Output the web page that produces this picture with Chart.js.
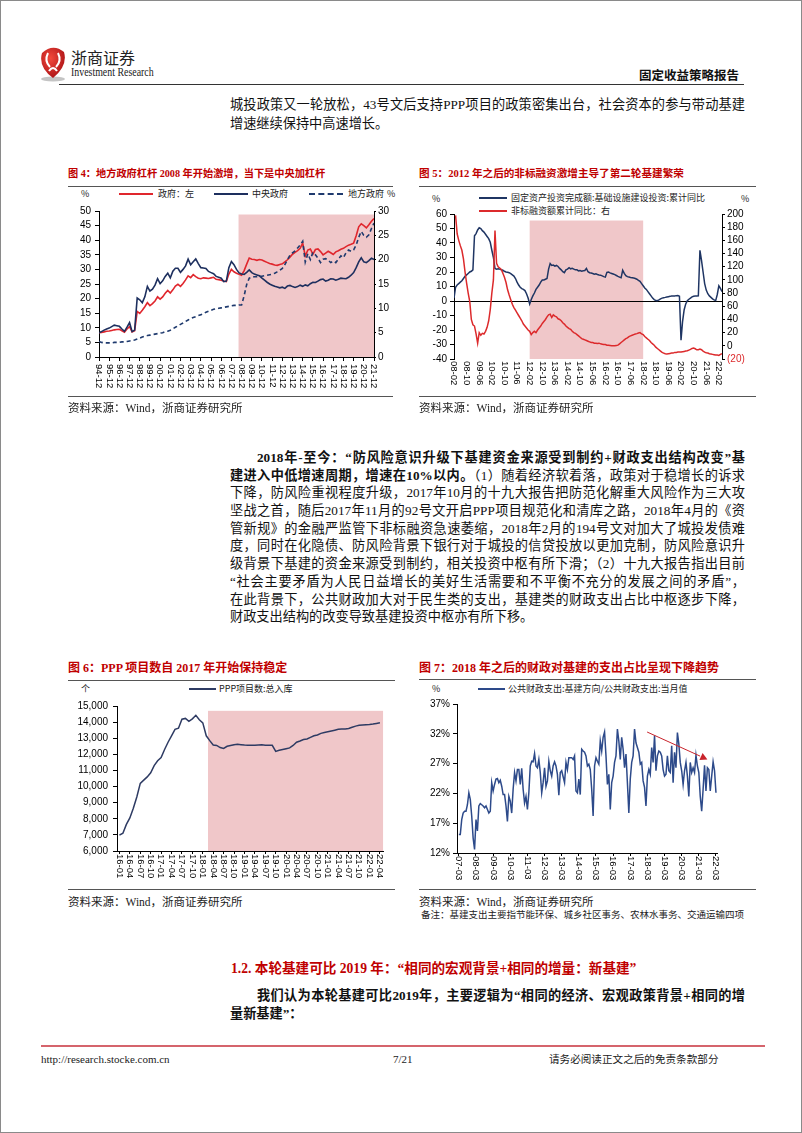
<!DOCTYPE html>
<html>
<head>
<meta charset="utf-8">
<script src="https://cdn.jsdelivr.net/npm/chart.js@4.4.1/dist/chart.umd.min.js"></script>
<style>
html, body { margin: 0; padding: 0; background: #fff; }
#page { position: relative; width: 800px; height: 1131px; border: 1px solid #8a8a8a; overflow: hidden;
        font-family: "Liberation Serif", "Noto Sans CJK SC", serif; color: #111; }
.abs { position: absolute; white-space: nowrap; }
.ln { position: absolute; left: 229px; width: 515px; height: 18px; line-height: 18px; font-size: 13.2px;
      text-align: justify; text-align-last: justify; }
.ln.end { text-align-last: left; }
.b { font-weight: 700; }
.ttl { position: absolute; white-space: nowrap; color: #c00000; font-weight: 700; line-height: 14px;
       font-family: "Liberation Serif", "Noto Sans CJK SC", serif; }
.rule { position: absolute; height: 0; border-top: 1px solid #555; }
.src { position: absolute; white-space: nowrap; font-size: 11.5px; line-height: 14px; color: #222; }
.sw { position: absolute; height: 0; width: 34px; }
.lt { position: absolute; white-space: nowrap; font-family: "Noto Sans CJK SC", sans-serif; font-size: 9px;
      line-height: 10px; color: #222; }
canvas { position: absolute; }
</style>
</head>
<body>
<div id="page">

  <!-- 页眉 -->
  <svg class="abs" style="left:36px;top:43px" width="32" height="40" viewBox="0 0 32 40">
    <defs>
      <radialGradient id="logoG" cx="40%" cy="35%" r="75%">
        <stop offset="0" stop-color="#f2493c"/>
        <stop offset="1" stop-color="#a50d12"/>
      </radialGradient>
    </defs>
    <ellipse cx="16" cy="35" rx="12" ry="2.6" fill="#c4c4c4"/>
    <path d="M5 9 Q16 -1 27 8 Q31 22 16 34 Q1 23 5 9Z" fill="url(#logoG)"/>
    <path d="M11 9 Q7 17 13 23 M21 9 Q25 17 19 23 M12 27 Q16 21 20 27" stroke="#fff" stroke-width="2" fill="none"/>
  </svg>
  <div class="abs" style="left:70px;top:47px;font-family:'Noto Sans CJK SC';font-size:16px;line-height:18px;color:#222">浙商证券</div>
  <div class="abs" style="left:70px;top:65px;font-size:11.5px;line-height:12px;color:#222;transform:scaleX(0.86);transform-origin:left">Investment Research</div>
  <div class="abs" style="left:638px;top:67px;font-family:'Noto Sans CJK SC';font-weight:700;font-size:12.5px;line-height:14px;color:#111">固定收益策略报告</div>
  <div class="abs" style="left:58px;top:83px;width:685px;height:0;border-top:1.5px solid #333"></div>

  <div class="ln" style="top:95px">城投政策又一轮放松，43号文后支持PPP项目的政策密集出台，社会资本的参与带动基建</div>
  <div class="ln end" style="top:114px">增速继续保持中高速增长。</div>

  <!-- 图4 -->
  <div class="ttl" style="left:67px;top:166px;font-size:10.2px">图 4：地方政府杠杆 2008 年开始激增，当下是中央加杠杆</div>
  <div class="rule" style="left:67px;top:185px;width:325px"></div>
  <div class="lt" style="left:80px;top:188px">%</div>
  <div class="sw" style="left:118px;top:192px;border-top:2px solid #e0262d"></div>
  <div class="lt" style="left:157px;top:188px">政府：左</div>
  <div class="sw" style="left:213px;top:192px;border-top:2px solid #1d2f5e"></div>
  <div class="lt" style="left:251px;top:188px">中央政府</div>
  <div class="sw" style="left:308px;top:192px;border-top:2px dashed #1f3a6e"></div>
  <div class="lt" style="left:347px;top:188px">地方政府</div>
  <div class="lt" style="left:386px;top:188px">%</div>
  <canvas id="c4" width="332" height="196" style="left:62px;top:200px"></canvas>
  <div class="rule" style="left:67px;top:395px;width:325px"></div>
  <div class="src" style="left:67px;top:400px">资料来源：Wind，浙商证券研究所</div>

  <!-- 图5 -->
  <div class="ttl" style="left:418px;top:166px;font-size:10.6px">图 5：2012 年之后的非标融资激增主导了第二轮基建繁荣</div>
  <div class="rule" style="left:418px;top:185px;width:337px"></div>
  <div class="lt" style="left:431px;top:193px">%</div>
  <div class="lt" style="left:740px;top:193px">%</div>
  <div class="sw" style="left:478px;top:196px;width:28px;border-top:2px solid #1f3563"></div>
  <div class="lt" style="left:510px;top:192px">固定资产投资完成额:基础设施建设投资:累计同比</div>
  <div class="sw" style="left:478px;top:209px;width:28px;border-top:2px solid #dc2a2c"></div>
  <div class="lt" style="left:510px;top:205px">非标融资额累计同比：右</div>
  <canvas id="c5" width="334" height="191" style="left:418px;top:204px"></canvas>
  <div class="rule" style="left:418px;top:395px;width:337px"></div>
  <div class="src" style="left:418px;top:400px">资料来源：Wind，浙商证券研究所</div>

  <!-- 正文 -->
  <div class="ln" style="top:448px;text-indent:27px"><span class="b">2018年-至今：“防风险意识升级下基建资金来源受到制约+财政支出结构改变”基</span></div>
  <div class="ln" style="top:466px"><span class="b">建进入中低增速周期，增速在10%以内。</span>（1）随着经济软着落，政策对于稳增长的诉求</div>
  <div class="ln" style="top:483px">下降，防风险重视程度升级，2017年10月的十九大报告把防范化解重大风险作为三大攻</div>
  <div class="ln" style="top:501px">坚战之首，随后2017年11月的92号文开启PPP项目规范化和清库之路，2018年4月的《资</div>
  <div class="ln" style="top:519px">管新规》的金融严监管下非标融资急速萎缩，2018年2月的194号文对加大了城投发债难</div>
  <div class="ln" style="top:536px">度，同时在化隐债、防风险背景下银行对于城投的信贷投放以更加克制，防风险意识升</div>
  <div class="ln" style="top:554px">级背景下基建的资金来源受到制约，相关投资中枢有所下滑；（2）十九大报告指出目前</div>
  <div class="ln" style="top:572px">“社会主要矛盾为人民日益增长的美好生活需要和不平衡不充分的发展之间的矛盾”，</div>
  <div class="ln" style="top:590px">在此背景下，公共财政加大对于民生类的支出，基建类的财政支出占比中枢逐步下降，</div>
  <div class="ln end" style="top:607px">财政支出结构的改变导致基建投资中枢亦有所下移。</div>

  <!-- 图6 -->
  <div class="ttl" style="left:67px;top:660px;font-size:12px">图 6：PPP 项目数自 2017 年开始保持稳定</div>
  <div class="rule" style="left:67px;top:679px;width:327px"></div>
  <div class="lt" style="left:80px;top:683px">个</div>
  <div class="sw" style="left:188px;top:687px;width:27px;border-top:2px solid #2e3b63"></div>
  <div class="lt" style="left:218px;top:683px">PPP项目数:总入库</div>
  <canvas id="c6" width="332" height="193" style="left:62px;top:694px"></canvas>
  <div class="rule" style="left:67px;top:888px;width:327px"></div>
  <div class="src" style="left:67px;top:894px">资料来源：Wind，浙商证券研究所</div>

  <!-- 图7 -->
  <div class="ttl" style="left:418px;top:660px;font-size:12px">图 7：2018 年之后的财政对基建的支出占比呈现下降趋势</div>
  <div class="rule" style="left:418px;top:678px;width:337px"></div>
  <div class="lt" style="left:431px;top:683px">%</div>
  <div class="sw" style="left:477px;top:687px;width:27px;border-top:2px solid #2d4a8a"></div>
  <div class="lt" style="left:507px;top:683px">公共财政支出:基建方向/公共财政支出:当月值</div>
  <canvas id="c7" width="312" height="193" style="left:418px;top:694px"></canvas>
  <div class="rule" style="left:418px;top:888px;width:337px"></div>
  <div class="src" style="left:418px;top:894px">资料来源：Wind，浙商证券研究所</div>
  <div class="abs" style="left:420px;top:909px;font-size:9.5px;line-height:11px;color:#222">备注：基建支出主要指节能环保、城乡社区事务、农林水事务、交通运输四项</div>

  <!-- 1.2 节 -->
  <div class="ttl" style="left:230px;top:960px;font-size:13.6px;line-height:16px">1.2. 本轮基建可比 2019 年：“相同的宏观背景+相同的增量：新基建”</div>
  <div class="ln b" style="top:986px;text-indent:27px">我们认为本轮基建可比2019年，主要逻辑为“相同的经济、宏观政策背景+相同的增</div>
  <div class="ln b end" style="top:1004px">量新基建”：</div>

  <!-- 页脚 -->
  <div class="abs" style="left:40px;top:1044px;width:724px;height:0;border-top:2px solid #d5646c"></div>
  <div class="abs" style="left:40px;top:1051px;font-size:11px;line-height:14px;color:#222">http://research.stocke.com.cn</div>
  <div class="abs" style="left:392px;top:1051px;font-size:11px;line-height:14px;color:#222">7/21</div>
  <div class="abs" style="left:548px;top:1051px;font-family:'Noto Sans CJK SC';font-size:10.6px;line-height:14px;color:#222">请务必阅读正文之后的免责条款部分</div>
</div>

<script>
// 图4：政府杠杆（季度，94-12 ~ 21-12）
const leverTicks = ['94-12','95-12','96-12','97-12','98-12','99-12','00-12','01-12','02-12','03-12','04-12','05-12','06-12','07-12',
                    '08-12','09-12','10-12','11-12','12-12','13-12','14-12','15-12','16-12','17-12','18-12','19-12','20-12','21-12'];
const govLeverage = [8.3,
  8.4, 8.6, 8.8, 8.9,   9.1, 9.3, 9.4, 9.5,   9.0, 8.5, 9.6, 10.4,   8.6, 9.0, 15.6, 14.9,
  16.0, 17.2, 18.6, 17.6,   18.3, 19.2, 20.6, 19.8,   20.6, 21.8, 22.8, 21.9,   23.0, 24.3, 24.9, 24.2,
  25.2, 26.4, 27.8, 27.2,   28.2, 27.5, 27.0, 26.8,   27.1, 27.0, 26.9, 27.1,   27.3, 26.6, 26.5, 26.3,
  26.0, 25.8, 28.4, 30.0,   29.2, 28.7, 28.3, 28.0,   29.6, 31.8, 33.9, 33.5,   33.4, 33.1, 33.4, 33.2,
  32.8, 32.4, 32.0, 31.8,   31.5, 31.4, 31.7, 31.9,   32.6, 33.3, 34.2, 35.2,   35.8, 36.4, 37.2, 39.0,
  34.6, 36.6, 37.0, 35.2,   36.8, 37.0, 36.1, 35.0,   35.6, 36.2, 35.7, 35.1,   36.0, 36.4, 36.9, 37.2,
  37.8, 38.3, 38.6, 39.0,   41.5, 44.6, 45.6, 45.0,   44.2, 45.3, 46.5, 47.4];
const centralLeverage = [8.3,
  8.7, 9.2, 9.6, 9.9,   10.4, 10.9, 10.7, 10.5,   9.6, 8.8, 10.2, 11.8,   8.7, 9.2, 20.2, 19.6,
  18.6, 20.6, 24.2, 22.6,   23.2, 24.6, 26.8, 25.1,   26.1, 27.6, 28.7, 27.1,   29.4, 30.4, 30.4, 29.0,
  30.0, 31.2, 33.5, 31.6,   32.6, 33.6, 32.0, 30.6,   30.5, 30.3, 29.3, 28.9,   28.5, 27.6, 27.3, 27.0,
  25.8, 26.0, 30.6, 32.7,   31.6, 30.0, 28.8, 28.4,   28.3, 29.0, 29.8, 28.9,   28.4, 28.1, 27.8, 27.0,
  26.3, 25.6, 25.0, 24.6,   24.2, 24.0, 23.7, 23.9,   23.5, 24.3, 24.5, 24.1,   23.8, 24.1, 24.6, 24.2,
  24.7, 24.4, 25.1, 25.6,   25.5, 26.0, 26.5, 26.7,   26.0, 26.3, 26.8, 26.7,   26.3, 26.6, 27.0, 26.9,
  26.8, 27.3, 28.0, 28.9,   30.6, 32.6, 34.0, 32.6,   32.3, 33.0, 33.8, 33.4];
const localLeverage = [3.2,
  3.0, 2.9, 2.9, 2.9,   2.9, 3.0, 3.0, 3.0,   3.1, 3.1, 3.2, 3.3,   3.4, 3.5, 3.7, 3.9,
  4.1, 4.3, 4.4, 4.5,   4.6, 4.7, 4.8, 4.9,   5.0, 5.2, 5.3, 5.5,   5.8, 6.1, 6.4, 6.7,
  7.0, 7.3, 7.6, 7.9,   8.1, 8.3, 8.5, 8.7,   8.9, 9.2, 9.4, 9.6,   9.8, 9.9, 10.0, 10.1,
  10.2, 10.3, 10.4, 10.5,   10.6, 10.6, 10.7, 10.7,   12.6, 14.9, 16.2, 16.4,   16.5, 16.5, 16.6, 16.6,
  16.7, 16.8, 16.9, 17.0,   17.2, 17.5, 17.8, 18.2,   19.0, 20.0, 20.9, 21.4,   21.8, 22.4, 23.0, 23.8,
  19.5, 21.2, 20.0, 21.5,   21.0, 20.3, 19.4, 20.1,   20.2, 19.9, 19.4, 19.7,   19.4, 20.1, 20.8, 20.4,
  21.4, 22.0, 21.7, 22.0,   23.0, 24.6, 25.8, 25.0,   24.6, 25.1, 26.4, 27.5];

// 图5：月度，08-02 ~ 22-04
const infraTicks = ['08-02','08-10','09-06','10-02','10-10','11-06','12-02','12-10','13-06','14-02','14-10',
                    '15-06','16-02','16-10','17-06','18-02','18-10','19-06','20-02','20-10','21-06','22-02'];
const infraGrowth = [
  2, 9.5, 11, 12, 13, 14, 15.5, 17, 18, 19, 20, 20.5,
  21.5, 45, 46.5, 49, 50.5, 50, 48.5, 47.5, 46, 44.5, 43, 40.5,
  35, 30, 22.5, 22, 22.3, 22, 21.5, 21.2, 20.5, 20, 19.8, 19.5,
  18.8, 18, 17.2, 15.5, 13, 11, 9.5, 8.5, 8, 7.2, 5, 2,
  -2, 1, 3.5, 5.5, 8, 9.5, 11, 13, 14.5, 14.5, 15, 15.5,
  22, 25.8, 24.5, 24.8, 24, 24.5, 23.8, 22.5, 21.5, 20.2, 19.5, 21.5,
  22, 23, 22.2, 22.5, 22, 21.5, 21.5, 20.8, 21, 20.5, 20.8, 21,
  22.5, 20.2, 19.5, 19.3, 19, 18.5, 18.8, 18.3, 18, 17.8, 17.3, 16.8,
  16.5, 19.8, 20, 19.4, 19, 18.6, 18.2, 17.6, 17, 16.5, 16, 21.2,
  19, 17.5, 16.8, 16.5, 16.2, 16, 15.8, 15.5, 15, 14.2, 13.5, 12,
  10.5, 9, 8, 6.5, 5, 3.5, 2, 1, 0.3, 0.2, 0.8, 1.5,
  2, 2.3, 2.5, 2.8, 3, 3.2, 3.5, 3.4, 3.5, 3.7, 3.8, 3.3,
  -27, -14, -6, -2, 0.2, 1.2, 2, 2.8, 3.3, 3.4, 3.5, 3.6,
  35, 28, 20, 12, 7.5, 5, 3.5, 2.5, 1.5, 0.8, 0.3, 4.5,
  10.5, 8.7, 6.5];
const nonStdGrowth = [
  null, 198, 170, 160, 152, 145, 132, 112, 95, 80, 67, 40,
  32, 30, 18, 4, 20, 16, 19, 18, 22, 28, 38, 55,
  80, 100, 175, 125, 120, 118, 116, 110, 104, 96, 85, 77,
  70, 63, 58, 54, 50, 46, 42, 38, 33, 30, 27, 24,
  22, 17, 20, 22, 20, 24, 27, 30, 34, 37, 40, 44,
  47, 48, 43, 47, 45, 44, 41, 40, 38, 35, 33, 30,
  28, 26, 25, 22, 20, 19, 17, 15, 13, 11, 10, 9,
  8, 7, 6, 5, 5, 4, 4, 3.5, 4, 3, 2.5, 2,
  2, 1, 1, 0.5, 0, 0, 0, 0.5, 1, 3, 5, 7,
  9, 11, 12, 14, 15, 16, 17, 18, 18.5, 19.5, 20, 18,
  17, 14, 12, 10, 8, 5, 3, 1, -2, -4, -6, -8,
  -10, -11, -12, -12.5, -12, -11.5, -11, -11, -10, -10, -9.5, -9.5,
  -9.5, -9, -8.5, -8, -7.5, -6.5, -5.5, -4, -3.5, -4.5, -6, -6,
  -5, -6, -8, -9.5, -10.5, -11, -12, -12.5, -13, -13.5, -14, -14,
  -14.5, -13, -12];

// 图6：PPP 项目数（月度，16-01 ~ 22-04）
const pppTicks = ['16-01','16-04','16-07','16-10','17-01','17-04','17-07','17-10','18-01','18-04','18-07','18-10','19-01',
                  '19-04','19-07','19-10','20-01','20-04','20-07','20-10','21-01','21-04','21-07','21-10','22-01','22-04'];
const pppProjects = [
  6980, 7100, 7650, 8050, 8650, 9350, 10200, 10400, 10600, 10850, 11300, 11600,
  11800, 12300, 12750, 13150, 13550, 13620, 14180, 14230, 14050, 14200, 14420, 14150,
  13950, 13150, 12850, 12580, 12550, 12420, 12370, 12500, 12550, 12600, 12620, 12600,
  12580, 12570, 12560, 12560, 12580, 12600, 12570, 12560, 12560, 12180, 12250, 12300,
  12350, 12400, 12550, 12750, 12830, 12920, 12950, 13050, 13150, 13200, 13300, 13350,
  13400, 13450, 13500, 13550, 13570, 13580, 13600, 13680, 13750, 13800, 13820, 13840,
  13850, 13880, 13920, 13960];

// 图7：基建支出占比（月度，07-03 ~ 22-03）
const fiscalTicks = ['07-03','08-03','09-03','10-03','11-03','12-03','13-03','14-03','15-03','16-03','17-03','18-03',
                     '19-03','20-03','21-03','22-03'];
const infraShare = [
  15.1, 15.1, 17.6, 18.7, 19.0, 19.0, 20.1, 22.1, 21.0, 18.2, 14.5, 12.6,
  17.6, 15.7, 19.9, 20.3, 20.1, 19.9, 19.6, 19.9, 19.3, 18.7, 19.0, 23.8,
  22.4, 23.5, 24.4, 24.5, 23.8, 24.2, 23.2, 21.8, 21.8, 19.9, 17.3, 21.5,
  20.7, 18.7, 22.7, 25.5, 24.1, 26.0, 26.0, 23.5, 26.2, 22.7, 20.4, 21.5,
  19.3, 22.1, 26.6, 27.4, 27.3, 28.7, 26.6, 26.3, 27.7, 25.5, 22.1, 23.8,
  26.3, 23.2, 24.1, 27.4, 25.8, 24.9, 26.6, 27.3, 26.6, 25.2, 21.7, 25.5,
  25.8, 24.8, 23.8, 27.2, 26.0, 28.0, 28.0, 28.0, 27.7, 28.3, 22.4, 22.1,
  24.4, 21.8, 29.4, 29.1, 28.9, 28.3, 26.6, 26.9, 26.0, 22.7, 18.2, 26.6,
  28.0, 27.4, 26.9, 30.8, 29.1, 31.4, 32.3, 28.3, 23.5, 25.2, 19.3, 23.8,
  24.9, 27.2, 28.3, 32.8, 30.8, 27.7, 31.4, 29.4, 26.3, 28.6, 23.8, 18.7,
  24.4, 27.2, 28.3, 32.8, 30.5, 29.7, 28.9, 26.9, 27.2, 24.1, 23.0, 19.9,
  24.9, 26.0, 25.2, 29.7, 27.2, 31.7, 25.8, 28.3, 29.1, 28.9, 28.3, 26.0,
  24.9, 25.2, 28.3, 25.8, 25.5, 30.0, 23.8, 28.9, 26.3, 32.2, 30.3, 27.2,
  25.8, 23.5, 25.8, 27.2, 24.9, 21.5, 27.2, 25.5, 26.3, 25.5, 28.4, 26.6,
  25.5, 21.5, 19.0, 22.7, 26.7, 22.4, 26.3, 26.0, 22.4, 24.9, 27.3, 25.8,
  22.1];
const trendArrow = { from: [131.8, 32.3], to: [174, 27.7] };

const SHADE = 'rgb(240, 199, 201)';
const RED = '#dc2a2c';

Chart.defaults.font.family = '"Liberation Sans", Arial, sans-serif';
Chart.defaults.font.size = 10;
Chart.defaults.color = '#000';
Chart.defaults.animation = false;
Chart.defaults.responsive = false;
Chart.defaults.devicePixelRatio = 1;
Chart.defaults.plugins.legend.display = false;
Chart.defaults.plugins.tooltip.enabled = false;
Chart.defaults.elements.point.radius = 0;
Chart.defaults.elements.line.borderWidth = 1.5;
Chart.defaults.elements.line.tension = 0;

const xy = arr => arr.map((v, i) => ({ x: i, y: v }));

// 阴影区间
const shadePlugin = {
    id: 'shade',
    beforeDraw(chart, args, opts) {
        const { ctx, chartArea } = chart;
        const x = chart.scales.x, y = chart.scales[opts.axis];
        const x0 = x.getPixelForValue(opts.from);
        const x1 = opts.to === null ? chartArea.right : x.getPixelForValue(opts.to);
        const y0 = y.getPixelForValue(opts.top);
        ctx.save();
        ctx.fillStyle = SHADE;
        ctx.fillRect(x0, y0, x1 - x0, chartArea.bottom - y0);
        ctx.restore();
    }
};

// 竖排的 x 轴标签（自上而下阅读）
const vLabelPlugin = {
    id: 'vlabels',
    afterDraw(chart, args, opts) {
        const { ctx } = chart;
        const sc = chart.scales.x;
        const y = chart.chartArea.bottom + opts.gap;
        ctx.save();
        ctx.font = opts.size + 'px "Liberation Sans", Arial, sans-serif';
        ctx.fillStyle = '#000';
        ctx.textAlign = 'left';
        ctx.textBaseline = 'middle';
        sc.ticks.forEach((t, i) => {
            ctx.save();
            ctx.translate(sc.getPixelForValue(t.value), y);
            ctx.rotate(Math.PI / 2);
            ctx.fillText(opts.labels[i], 0, 0);
            ctx.restore();
        });
        ctx.restore();
    }
};

// 图5 的零轴
const zeroLinePlugin = {
    id: 'zeroline',
    beforeDatasetsDraw(chart) {
        const { ctx, chartArea } = chart;
        const y = Math.round(chart.scales.y.getPixelForValue(0)) + 0.5;
        ctx.save();
        ctx.strokeStyle = '#000';
        ctx.lineWidth = 1;
        ctx.beginPath();
        ctx.moveTo(chartArea.left, y);
        ctx.lineTo(chartArea.right, y);
        ctx.stroke();
        ctx.restore();
    }
};

// 图7 的下降趋势箭头
const arrowPlugin = {
    id: 'arrow',
    afterDatasetsDraw(chart, args, opts) {
        const { ctx } = chart;
        const x = chart.scales.x, y = chart.scales.y;
        const x0 = x.getPixelForValue(opts.from[0]), y0 = y.getPixelForValue(opts.from[1]);
        const x1 = x.getPixelForValue(opts.to[0]), y1 = y.getPixelForValue(opts.to[1]);
        const ang = Math.atan2(y1 - y0, x1 - x0);
        const head = 8;
        ctx.save();
        ctx.strokeStyle = '#c8232b';
        ctx.fillStyle = '#c8232b';
        ctx.lineWidth = 1;
        ctx.beginPath();
        ctx.moveTo(x0, y0);
        ctx.lineTo(x1 - head * Math.cos(ang), y1 - head * Math.sin(ang));
        ctx.stroke();
        ctx.beginPath();
        ctx.moveTo(x1, y1);
        ctx.lineTo(x1 - head * Math.cos(ang - 0.5), y1 - head * Math.sin(ang - 0.5));
        ctx.lineTo(x1 - head * Math.cos(ang + 0.5), y1 - head * Math.sin(ang + 0.5));
        ctx.closePath();
        ctx.fill();
        ctx.restore();
    }
};

function yAxis(opts) {
    return {
        position: opts.position || 'left',
        min: opts.min, max: opts.max,
        afterBuildTicks: s => { s.ticks = opts.values.map(v => ({ value: v })); },
        afterFit: s => { s.width = opts.width; },
        ticks: { autoSkip: false, padding: opts.padding, color: opts.color || '#000', callback: opts.fmt || (v => v) },
        grid: { drawOnChartArea: false, drawTicks: true, tickLength: opts.tick, color: '#000' },
        border: { display: true, color: '#000' }
    };
}

function xAxis(opts) {
    return {
        type: 'linear',
        min: opts.min, max: opts.max,
        afterBuildTicks: s => { s.ticks = opts.labels.map((_, i) => ({ value: i * opts.every })); },
        afterFit: s => { s.height = opts.height; },
        ticks: { autoSkip: false, color: 'rgba(0,0,0,0)', minRotation: 90, maxRotation: 90 },
        grid: { display: opts.axis, drawOnChartArea: false, drawTicks: true, tickLength: opts.tick, color: '#000' },
        border: { display: opts.axis, color: '#000' }
    };
}

const range = (a, b, s) => { const r = []; for (let v = a; v <= b + 1e-9; v += s) r.push(v); return r; };

// 图4
new Chart(document.getElementById('c4'), {
    type: 'line',
    data: {
        datasets: [
            { data: xy(localLeverage), yAxisID: 'y1', borderColor: '#1f3a6e', borderWidth: 1.6, borderDash: [4, 3] },
            { data: xy(centralLeverage), yAxisID: 'y', borderColor: '#1d2f5e', borderWidth: 1.6 },
            { data: xy(govLeverage), yAxisID: 'y', borderColor: '#e0262d', borderWidth: 1.6 }
        ]
    },
    options: {
        layout: { padding: { top: 8, left: 0, right: 0, bottom: 0 } },
        scales: {
            x: xAxis({ min: 0, max: 108, every: 4, labels: leverTicks, height: 40, tick: 4, axis: true }),
            y: yAxis({ min: 0, max: 50, values: range(0, 50, 5), width: 36, tick: 4, padding: 4 }),
            y1: yAxis({ position: 'right', min: 0, max: 30, values: range(0, 30, 5), width: 21, tick: 2, padding: 2 })
        },
        plugins: {
            shade: { axis: 'y', from: 54.8, to: null, top: 48.8 },
            vlabels: { labels: leverTicks, gap: 7, size: 9.5 }
        }
    },
    plugins: [shadePlugin, vLabelPlugin]
});

// 图5
new Chart(document.getElementById('c5'), {
    type: 'line',
    data: {
        datasets: [
            { data: xy(nonStdGrowth), yAxisID: 'y1', borderColor: RED, borderWidth: 1.5 },
            { data: xy(infraGrowth), yAxisID: 'y', borderColor: '#1f3563', borderWidth: 1.5 }
        ]
    },
    options: {
        layout: { padding: { top: 8, left: 0, right: 0, bottom: 0 } },
        scales: {
            x: xAxis({ min: 0, max: 170, every: 8, labels: infraTicks, height: 37, tick: 0, axis: false }),
            y: yAxis({ min: -40, max: 60, values: range(-40, 60, 10), width: 35, tick: 4, padding: 3 }),
            y1: yAxis({ position: 'right', min: -20, max: 200, values: range(-20, 200, 20), width: 31, tick: 3, padding: 2,
                        color: c => (c.tick && c.tick.value < 0 ? RED : '#000'),
                        fmt: v => (v < 0 ? '(' + (-v) + ')' : v) })
        },
        plugins: {
            shade: { axis: 'y', from: 48, to: 120, top: 55.5 },
            vlabels: { labels: infraTicks, gap: 2, size: 9.5 }
        }
    },
    plugins: [shadePlugin, zeroLinePlugin, vLabelPlugin]
});

// 图6
new Chart(document.getElementById('c6'), {
    type: 'line',
    data: { datasets: [{ data: xy(pppProjects), borderColor: '#2e3b63', borderWidth: 1.5 }] },
    options: {
        layout: { padding: { top: 9, left: 0, right: 6, bottom: 0 } },
        scales: {
            x: xAxis({ min: -0.7, max: 75.9, every: 3, labels: pppTicks, height: 37, tick: 3, axis: true }),
            y: yAxis({ min: 6000, max: 15000, values: range(6000, 15000, 1000), width: 54, tick: 4, padding: 5,
                       fmt: v => v.toLocaleString('en-US') })
        },
        plugins: {
            shade: { axis: 'y', from: 25.5, to: null, top: 14700 },
            vlabels: { labels: pppTicks, gap: 3, size: 9.5 }
        }
    },
    plugins: [shadePlugin, vLabelPlugin]
});

// 图7
new Chart(document.getElementById('c7'), {
    type: 'line',
    data: { datasets: [{ data: xy(infraShare), borderColor: '#2d4a8a', borderWidth: 1.5 }] },
    options: {
        layout: { padding: { top: 9, left: 0, right: 5, bottom: 0 } },
        scales: {
            x: xAxis({ min: -1.3, max: 181.1, every: 12, labels: fiscalTicks, height: 35, tick: 3, axis: true }),
            y: yAxis({ min: 12, max: 37, values: range(12, 37, 5), width: 38, tick: 4, padding: 3, fmt: v => v + '%' })
        },
        plugins: {
            arrow: trendArrow,
            vlabels: { labels: fiscalTicks, gap: 3, size: 9.5 }
        }
    },
    plugins: [arrowPlugin, vLabelPlugin]
});
</script>
</body>
</html>
